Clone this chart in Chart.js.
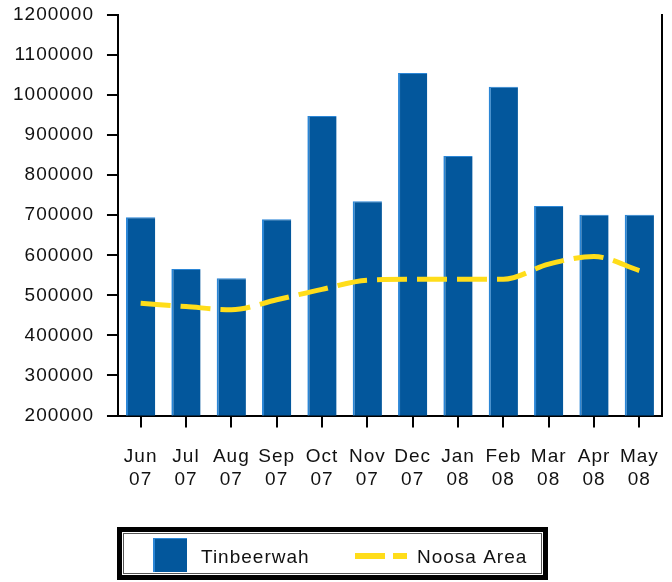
<!DOCTYPE html>
<html>
<head>
<meta charset="utf-8">
<script src="https://cdn.jsdelivr.net/npm/chart.js@4/dist/chart.umd.min.js"></script>
<style>
html,body{margin:0;padding:0;background:#fff;}
#wrap{width:672px;height:582px;position:relative;}
</style>
</head>
<body>
<div id="wrap"><canvas id="c" width="672" height="582"></canvas></div>
<script>
const categories = [["Jun","07"],["Jul","07"],["Aug","07"],["Sep","07"],["Oct","07"],["Nov","07"],["Dec","07"],["Jan","08"],["Feb","08"],["Mar","08"],["Apr","08"],["May","08"]];
const tinbeerwah = [695000, 566000, 543000, 690000, 948000, 735000, 1055000, 848000, 1021000, 723000, 701000, 701000];
const noosaArea = [480000, 472000, 464000, 489000, 515000, 538000, 540000, 540000, 540000, 578000, 597000, 562000];
const yMin = 200000, yMax = 1200000, yStep = 100000;
const seriesNames = ["Tinbeerwah", "Noosa Area"];

const FONT = "'Liberation Sans', Arial, sans-serif";
const BLUE = '#03579C';
const YELLOW = '#FFDD1A';

const spacingPlugin = {
  id: 'spacing',
  beforeUpdate(chart){ chart.ctx.letterSpacing = '1px'; },
  beforeLayout(chart){ chart.ctx.letterSpacing = '1px'; },
  beforeDraw(chart){ chart.ctx.letterSpacing = '1px'; }
};

const legendPlugin = {
  id: 'boxLegend',
  afterDraw(chart){
    const ctx = chart.ctx;
    ctx.save();
    const x0 = 117, y0 = 527, x1 = 548, y1 = 580;
    ctx.strokeStyle = '#000';
    ctx.lineWidth = 5;
    ctx.strokeRect(x0 + 2.5, y0 + 2.5, (x1 - x0) - 5, (y1 - y0) - 5);
    ctx.lineWidth = 1;
    ctx.strokeStyle = '#555';
    ctx.strokeRect(x0 + 6.5, y0 + 6.5, (x1 - x0) - 13, (y1 - y0) - 13);
    const ds = chart.data.datasets;
    ctx.fillStyle = ds[1].backgroundColor;
    ctx.fillRect(153, 538, 34, 34);
    ctx.fillStyle = '#2b86d6';
    ctx.fillRect(153, 538, 2, 34);
    ctx.fillRect(153, 538, 34, 1);
    ctx.font = '19px ' + FONT;
    ctx.letterSpacing = '1px';
    ctx.fillStyle = '#111';
    ctx.textBaseline = 'alphabetic';
    ctx.fillText(ds[1].label, 201, 563);
    ctx.strokeStyle = ds[0].borderColor;
    ctx.lineWidth = 6;
    ctx.beginPath(); ctx.moveTo(355, 556); ctx.lineTo(385, 556); ctx.stroke();
    ctx.beginPath(); ctx.moveTo(393, 556); ctx.lineTo(407, 556); ctx.stroke();
    ctx.fillText(ds[0].label, 417, 563);
    ctx.restore();
  }
};

new Chart(document.getElementById('c'), {
  data: {
    labels: categories,
    datasets: [
      {
        type: 'line',
        label: seriesNames[1],
        data: noosaArea,
        borderColor: YELLOW,
        borderWidth: 5,
        borderDash: [30, 10],
        borderCapStyle: 'butt',
        pointRadius: 0,
        cubicInterpolationMode: 'monotone',
        fill: false,
        order: 0,
        yAxisID: 'y'
      },
      {
        type: 'bar',
        label: seriesNames[0],
        data: tinbeerwah,
        backgroundColor: BLUE,
        borderColor: '#2b86d6',
        borderWidth: {top: 1, left: 2, right: 0, bottom: 0},
        borderSkipped: false,
        categoryPercentage: 1,
        barPercentage: 0.645,
        order: 1,
        yAxisID: 'y'
      }
    ]
  },
  options: {
    responsive: false,
    animation: false,
    events: [],
    layout: {autoPadding: false, padding: {left: 0, right: 10, top: 15, bottom: 73}},
    plugins: {legend: {display: false}, tooltip: {enabled: false}},
    scales: {
      x: {
        offset: true,
        grid: {display: true, offset: false, drawOnChartArea: false, drawTicks: true, tickLength: 12, color: '#000', lineWidth: 2},
        border: {display: true, color: '#000', width: 2},
        ticks: {color: '#111', font: {family: FONT, size: 19, lineHeight: 1.25}, padding: 17, maxRotation: 0, autoSkip: false},
        afterFit(scale){ scale.paddingLeft = 0; scale.paddingRight = 0; }
      },
      y: {
        position: 'left',
        min: yMin, max: yMax,
        grid: {display: true, drawOnChartArea: false, drawTicks: true, tickLength: 11, color: '#000', lineWidth: 2},
        border: {display: true, color: '#000', width: 2},
        ticks: {stepSize: yStep, color: '#111', font: {family: FONT, size: 19}, padding: 13,
                callback: (v) => String(v)},
        afterFit(scale){ scale.paddingTop = 0; scale.paddingBottom = 0; }
      },
      yR: {
        position: 'right',
        min: yMin, max: yMax,
        grid: {display: false, drawOnChartArea: false, drawTicks: false},
        border: {display: true, color: '#000', width: 2},
        ticks: {display: false},
        afterFit(scale){ scale.width = 0; scale.paddingTop = 0; scale.paddingBottom = 0; }
      }
    }
  },
  plugins: [spacingPlugin, legendPlugin]
});
</script>
</body>
</html>
